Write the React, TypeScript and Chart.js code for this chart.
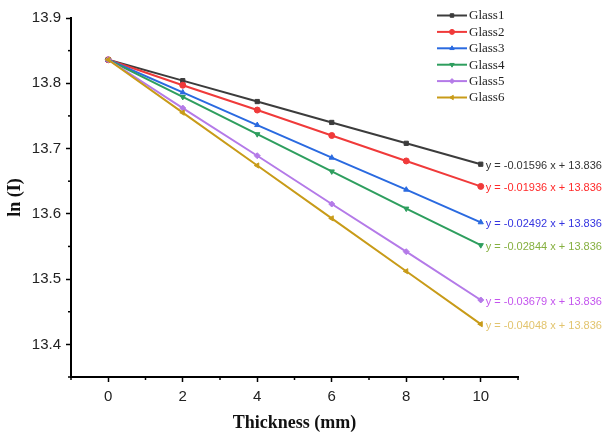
import React, { useEffect, useRef } from "react";
import { Chart, registerables } from "chart.js";
import { drawPoint } from "chart.js/helpers";

Chart.register(...registerables);

const thickness = [0, 2, 4, 6, 8, 10];
const glass1 = [13.836, 13.804, 13.772, 13.740, 13.708, 13.676];
const glass2 = [13.836, 13.797, 13.759, 13.720, 13.681, 13.642];
const glass3 = [13.836, 13.786, 13.736, 13.686, 13.637, 13.587];
const glass4 = [13.836, 13.779, 13.722, 13.665, 13.608, 13.552];
const glass5 = [13.836, 13.762, 13.689, 13.615, 13.542, 13.468];
const glass6 = [13.836, 13.755, 13.674, 13.593, 13.512, 13.431];

const seriesNames = ["Glass1", "Glass2", "Glass3", "Glass4", "Glass5", "Glass6"];
const equations = [
  "y = -0.01596 x + 13.836",
  "y = -0.01936 x + 13.836",
  "y = -0.02492 x + 13.836",
  "y = -0.02844 x + 13.836",
  "y = -0.03679 x + 13.836",
  "y = -0.04048 x + 13.836",
];

const xTicks = [0, 2, 4, 6, 8, 10];
const xMinorTicks = [-1, 1, 3, 5, 7, 9, 11];
const yTicks = [13.4, 13.5, 13.6, 13.7, 13.8, 13.9];
const yMinorTicks = [13.35, 13.45, 13.55, 13.65, 13.75, 13.85];

const lineColors = ["#3c3c3c", "#f03a3a", "#2a6ae0", "#2e9e5e", "#b47ae8", "#c89b18"];
const eqColors = ["#333333", "#ff2a2a", "#3434e0", "#86b040", "#c455ee", "#e2c46e"];
const pointStyles = ["rect", "circle", "triangle", "triangle", "rectRot", "triangle"];
const pointRotations = [0, 0, 0, 180, 0, -90];

const allSeries = [glass1, glass2, glass3, glass4, glass5, glass6];

const overlayPlugin = {
  id: "overlay",
  afterDraw(chart: any) {
    const ctx = chart.ctx;
    const xs = chart.scales.x;
    const ys = chart.scales.y;
    const area = chart.chartArea;
    ctx.save();
    // minor ticks
    ctx.strokeStyle = "#000";
    ctx.lineWidth = 1.5;
    xMinorTicks.forEach((v) => {
      const px = xs.getPixelForValue(v);
      ctx.beginPath();
      ctx.moveTo(px, area.bottom);
      ctx.lineTo(px, area.bottom + 3);
      ctx.stroke();
    });
    yMinorTicks.forEach((v) => {
      const py = ys.getPixelForValue(v);
      ctx.beginPath();
      ctx.moveTo(area.left, py);
      ctx.lineTo(area.left - 3, py);
      ctx.stroke();
    });
    // equations
    ctx.font = "11px 'Liberation Sans', Arial, sans-serif";
    ctx.textAlign = "left";
    ctx.textBaseline = "middle";
    allSeries.forEach((s, i) => {
      const last = s.length - 1;
      const px = xs.getPixelForValue(thickness[last]);
      const py = ys.getPixelForValue(s[last]);
      ctx.fillStyle = eqColors[i];
      ctx.fillText(equations[i], px + 5, py + 2);
    });
    // legend
    const lx0 = 437;
    const lx1 = 467;
    const ly0 = 15.5;
    const step = 16.4;
    ctx.font = "13px 'Liberation Serif', 'Times New Roman', serif";
    seriesNames.forEach((name, i) => {
      const y = ly0 + i * step;
      ctx.strokeStyle = lineColors[i];
      ctx.lineWidth = 2;
      ctx.beginPath();
      ctx.moveTo(lx0, y);
      ctx.lineTo(lx1, y);
      ctx.stroke();
      ctx.fillStyle = lineColors[i];
      ctx.lineWidth = 1;
      drawPoint(ctx, { pointStyle: pointStyles[i], rotation: pointRotations[i], radius: 2.5, borderWidth: 1 } as any, (lx0 + lx1) / 2, y);
      ctx.fillStyle = "#222";
      ctx.fillText(name, lx1 + 2, y + 0.5);
    });
    ctx.restore();
  },
};

export default function App() {
  const canvasRef = useRef<HTMLCanvasElement | null>(null);

  useEffect(() => {
    if (!canvasRef.current) return;
    const datasets = allSeries.map((s, i) => ({
      label: seriesNames[i],
      data: thickness.map((x, j) => ({ x, y: s[j] })),
      borderColor: lineColors[i],
      backgroundColor: lineColors[i],
      borderWidth: 2,
      pointStyle: pointStyles[i] as any,
      rotation: pointRotations[i],
      pointRadius: 3,
      pointBorderWidth: 1,
      tension: 0,
      order: allSeries.length - i,
    }));
    const chart = new Chart(canvasRef.current, {
      type: "line",
      data: { datasets },
      options: {
        animation: false,
        responsive: false,
        maintainAspectRatio: false,
        layout: { padding: { top: 18, right: 89, left: 0, bottom: 0 } },
        plugins: { legend: { display: false }, tooltip: { enabled: false } },
        scales: {
          x: {
            type: "linear",
            min: -1,
            max: 11,
            afterBuildTicks: (scale: any) => {
              scale.ticks = xTicks.map((v) => ({ value: v }));
            },
            afterFit: (scale: any) => {
              scale.height = 57;
            },
            ticks: {
              font: { family: "'Liberation Sans', Arial, sans-serif", size: 15 },
              color: "#222",
              padding: 6,
              maxRotation: 0,
              callback: (v: any) => String(v),
            },
            grid: {
              display: true,
              drawOnChartArea: false,
              drawTicks: true,
              tickLength: 5,
              tickColor: "#000",
              tickWidth: 1.5,
            },
            border: { display: true, color: "#000", width: 2 },
            title: {
              display: true,
              text: "Thickness (mm)",
              font: { family: "'Liberation Serif', 'Times New Roman', serif", size: 18, weight: "bold" },
              color: "#111",
              padding: { top: 0, bottom: 0 },
            },
          },
          y: {
            type: "linear",
            min: 13.35,
            max: 13.9,
            afterBuildTicks: (scale: any) => {
              scale.ticks = yTicks.map((v) => ({ value: v }));
            },
            afterFit: (scale: any) => {
              scale.width = 71;
            },
            ticks: {
              font: { family: "'Liberation Sans', Arial, sans-serif", size: 15 },
              color: "#222",
              padding: 5,
              callback: (v: any) => Number(v).toFixed(1),
            },
            grid: {
              display: true,
              drawOnChartArea: false,
              drawTicks: true,
              tickLength: 5,
              tickColor: "#000",
              tickWidth: 1.5,
            },
            border: { display: true, color: "#000", width: 2 },
            title: {
              display: true,
              text: "ln (I)",
              font: { family: "'Liberation Serif', 'Times New Roman', serif", size: 18, weight: "bold" },
              color: "#111",
              padding: { top: 5, bottom: 0 },
            },
          },
        },
      },
      plugins: [overlayPlugin],
    });
    return () => chart.destroy();
  }, []);

  return (
    <div style={{ position: "fixed", left: 0, top: 0, width: 607, height: 434, background: "#fff" }}>
      <canvas ref={canvasRef} width={607} height={434} style={{ width: 607, height: 434 }} />
    </div>
  );
}
